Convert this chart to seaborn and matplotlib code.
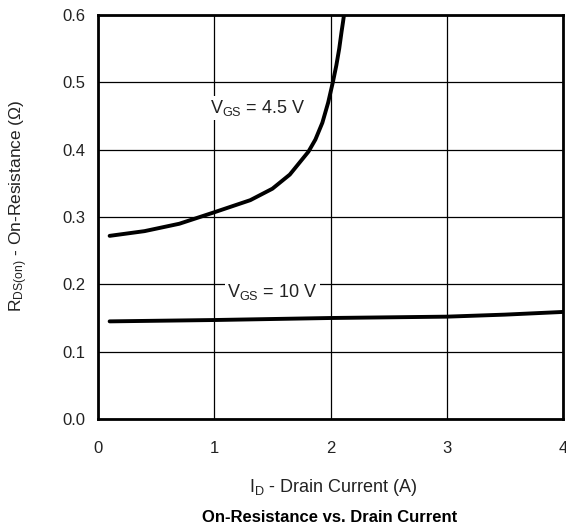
import pandas as pd
import matplotlib
matplotlib.use("Agg")
import matplotlib.pyplot as plt
import seaborn as sns

# Curve data
id_45 = [0.1, 0.4, 0.7, 1.0, 1.31, 1.5, 1.65, 1.81, 1.87, 1.93, 1.98, 2.02, 2.05, 2.075, 2.095, 2.108, 2.116]
r_45 = [0.272, 0.279, 0.290, 0.307, 0.325, 0.342, 0.363, 0.397, 0.415, 0.44, 0.47, 0.50, 0.525, 0.55, 0.575, 0.59, 0.60]

id_10 = [0.1, 1.0, 2.0, 3.0, 3.5, 4.0]
r_10 = [0.145, 0.147, 0.150, 0.152, 0.155, 0.159]

x_ticks = [0, 1, 2, 3, 4]
y_ticks = [0.0, 0.1, 0.2, 0.3, 0.4, 0.5, 0.6]

sns.set_style("white")
plt.rcParams["font.family"] = ["Liberation Sans", "DejaVu Sans"]

df45 = pd.DataFrame({"I": id_45, "R": r_45})
df10 = pd.DataFrame({"I": id_10, "R": r_10})

fig = plt.figure(figsize=(5.66, 5.31), dpi=100)
ax = fig.add_axes([98 / 566, 112 / 531, 465 / 566, 404 / 531])

sns.lineplot(x="I", y="R", data=df45, color="black", linewidth=2.8, sort=False, ax=ax, zorder=4)
sns.lineplot(x="I", y="R", data=df10, color="black", linewidth=2.8, sort=False, ax=ax, zorder=4)

ax.set_xlim(0, 4)
ax.set_ylim(0, 0.6)
ax.set_xticks(x_ticks)
ax.set_yticks(y_ticks)
ax.set_xticklabels([str(t) for t in x_ticks])
ax.set_yticklabels([f"{t:.1f}" for t in y_ticks])
ax.tick_params(length=0, labelsize=12, colors="#222222")
ax.tick_params(axis="x", pad=16)
ax.tick_params(axis="y", pad=9)
ax.grid(True, color="black", linewidth=0.9)
for s in ax.spines.values():
    s.set_linewidth(2)
    s.set_color("black")

ax.set_xlabel("")
ax.set_ylabel("")

box = dict(facecolor="white", edgecolor="none", pad=1.5)
ax.text(0.96, 0.462, r"$\mathregular{V_{GS}}$ = 4.5 V", fontsize=13, va="center", ha="left",
        color="#222222", bbox=box, zorder=3)
ax.text(1.11, 0.188, r"$\mathregular{V_{GS}}$ = 10 V", fontsize=13, va="center", ha="left",
        color="#222222", bbox=box, zorder=3)

fig.text(19 / 566, 1 - 206 / 531, r"$\mathregular{R_{DS(on)}}$ - On-Resistance ($\mathregular{\Omega}$)",
         rotation=90, fontsize=12.5, ha="center", va="center", color="#222222")
fig.text(333 / 566, 1 - 487 / 531, r"$\mathregular{I_D}$ - Drain Current (A)",
         fontsize=13, ha="center", va="center", color="#222222")
fig.text(330 / 566, 1 - 518 / 531, "On-Resistance vs. Drain Current",
         fontsize=12, fontweight="bold", ha="center", va="center", color="black")

fig.savefig("out.png", dpi=100)
